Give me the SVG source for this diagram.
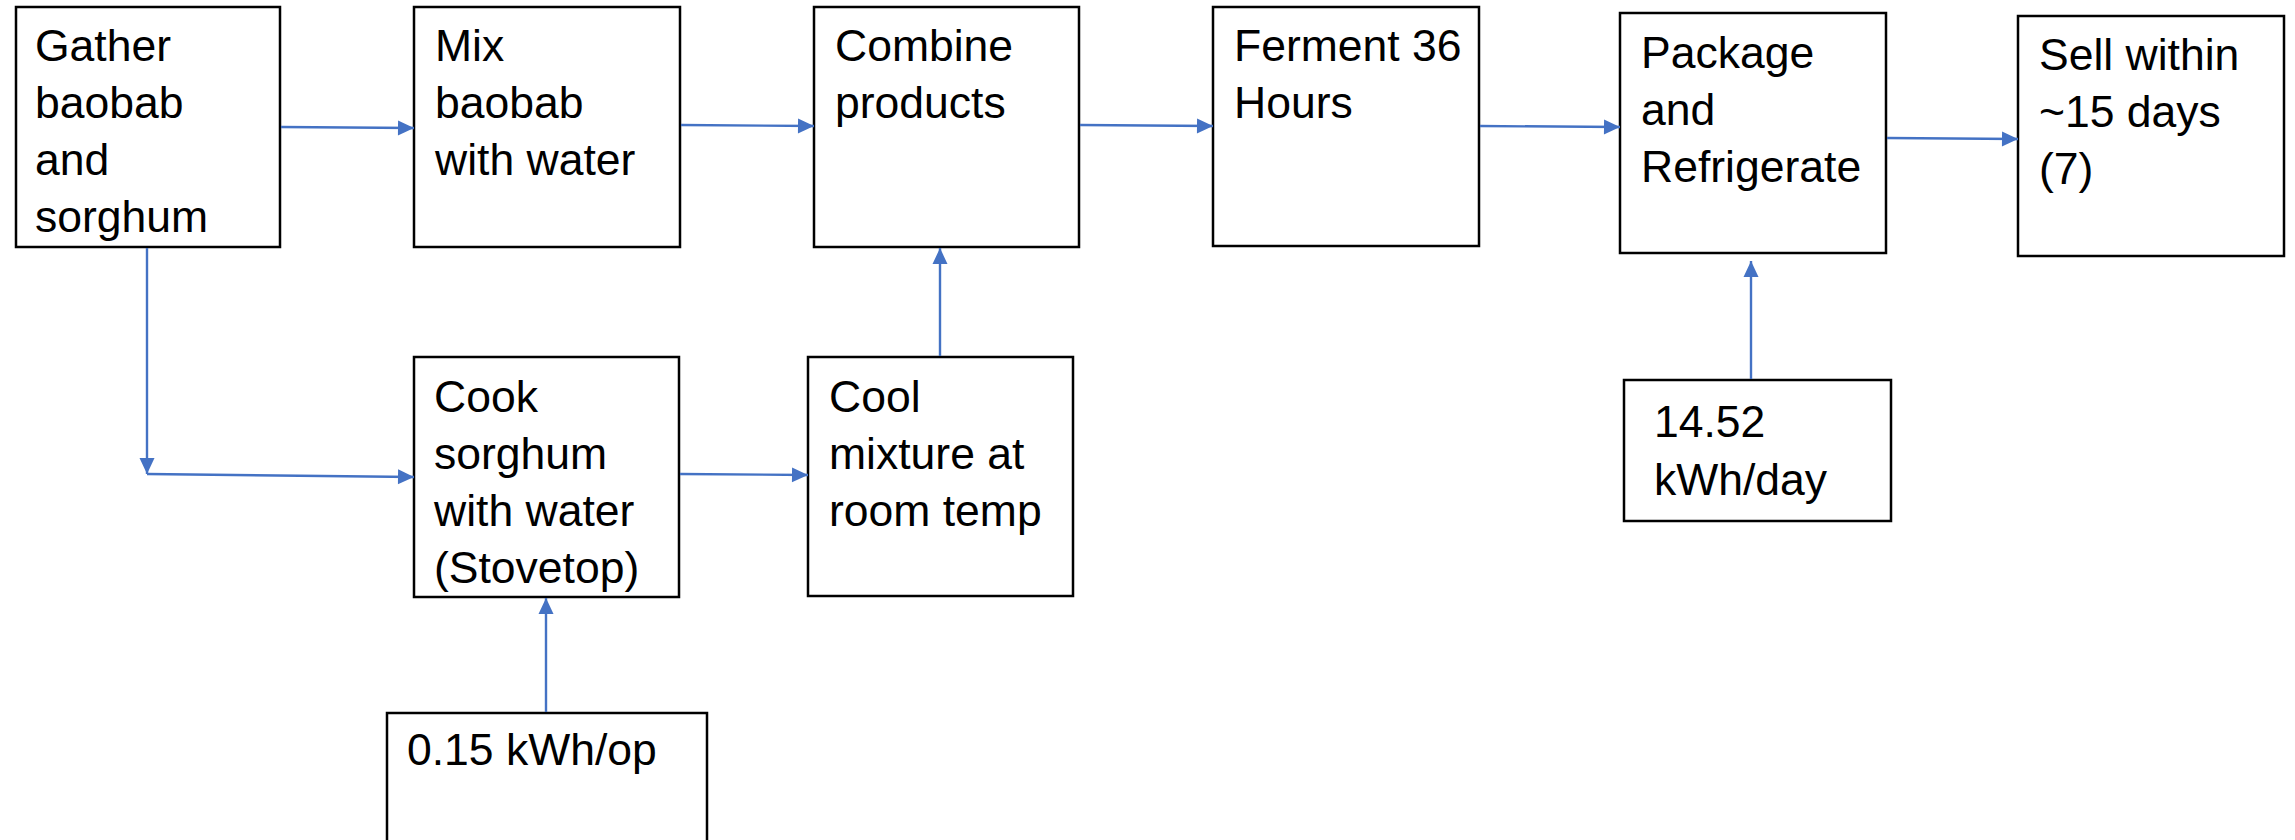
<svg xmlns="http://www.w3.org/2000/svg" width="2295" height="840" viewBox="0 0 2295 840">
<style>
.box{fill:#fff;stroke:#000;stroke-width:2.5}
.t{font-family:"Liberation Sans",Arial,sans-serif;font-size:44.5px;fill:#000}
.c{stroke:#4472C4;stroke-width:2.4;fill:none}
</style>
<defs>
<marker id="arr" markerUnits="userSpaceOnUse" markerWidth="18" markerHeight="18" viewBox="0 0 18 18" refX="17" refY="9" orient="auto">
<path d="M1,1.5 L17,9 L1,16.5 Z" fill="#4472C4"/>
</marker>
</defs>
<rect width="2295" height="840" fill="#fff"/>
<g id="gather"><rect class="box" x="16" y="7" width="264" height="240"/>
<text class="t" x="35"><tspan x="35" y="61">Gather</tspan><tspan x="35" y="118">baobab</tspan><tspan x="35" y="175">and</tspan><tspan x="35" y="232">sorghum</tspan></text></g>
<g id="mix"><rect class="box" x="414" y="7" width="266" height="240"/>
<text class="t"><tspan x="435" y="61">Mix</tspan><tspan x="435" y="118">baobab</tspan><tspan x="435" y="175">with water</tspan></text></g>
<g id="combine"><rect class="box" x="814" y="7" width="265" height="240"/>
<text class="t"><tspan x="835" y="61">Combine</tspan><tspan x="835" y="118">products</tspan></text></g>
<g id="ferment"><rect class="box" x="1213" y="7" width="266" height="239"/>
<text class="t"><tspan x="1234" y="61">Ferment 36</tspan><tspan x="1234" y="118">Hours</tspan></text></g>
<g id="package"><rect class="box" x="1620" y="13" width="266" height="240"/>
<text class="t"><tspan x="1641" y="68">Package</tspan><tspan x="1641" y="125">and</tspan><tspan x="1641" y="182">Refrigerate</tspan></text></g>
<g id="sell"><rect class="box" x="2018" y="16" width="266" height="240"/>
<text class="t"><tspan x="2039" y="70">Sell within</tspan><tspan x="2039" y="127">~15 days</tspan><tspan x="2039" y="184">(7)</tspan></text></g>
<g id="cook"><rect class="box" x="414" y="357" width="265" height="240"/>
<text class="t"><tspan x="434" y="412">Cook</tspan><tspan x="434" y="469">sorghum</tspan><tspan x="434" y="526">with water</tspan><tspan x="434" y="583">(Stovetop)</tspan></text></g>
<g id="cool"><rect class="box" x="808" y="357" width="265" height="239"/>
<text class="t"><tspan x="829" y="412">Cool</tspan><tspan x="829" y="469">mixture at</tspan><tspan x="829" y="526">room temp</tspan></text></g>
<g id="energy-cook"><rect class="box" x="387" y="713" width="320" height="140"/>
<text class="t" x="407" y="765">0.15 kWh/op</text></g>
<g id="energy-fridge"><rect class="box" x="1624" y="380" width="267" height="141"/>
<text class="t"><tspan x="1654" y="437">14.52</tspan><tspan x="1654" y="495">kWh/day</tspan></text></g>
<g id="connectors">
<line class="c" x1="281" y1="127" x2="414" y2="128" marker-end="url(#arr)"/>
<line class="c" x1="681" y1="125" x2="814" y2="126" marker-end="url(#arr)"/>
<line class="c" x1="1080" y1="125" x2="1213" y2="126" marker-end="url(#arr)"/>
<line class="c" x1="1480" y1="126" x2="1620" y2="127" marker-end="url(#arr)"/>
<line class="c" x1="1887" y1="138" x2="2018" y2="139" marker-end="url(#arr)"/>
<line class="c" x1="147" y1="248" x2="147" y2="474" marker-end="url(#arr)"/>
<line class="c" x1="147" y1="474" x2="414" y2="477" marker-end="url(#arr)"/>
<line class="c" x1="680" y1="474" x2="808" y2="475" marker-end="url(#arr)"/>
<line class="c" x1="940" y1="356" x2="940" y2="248" marker-end="url(#arr)"/>
<line class="c" x1="546" y1="712" x2="546" y2="598" marker-end="url(#arr)"/>
<line class="c" x1="1751" y1="379" x2="1751" y2="261" marker-end="url(#arr)"/>
</g>
</svg>
